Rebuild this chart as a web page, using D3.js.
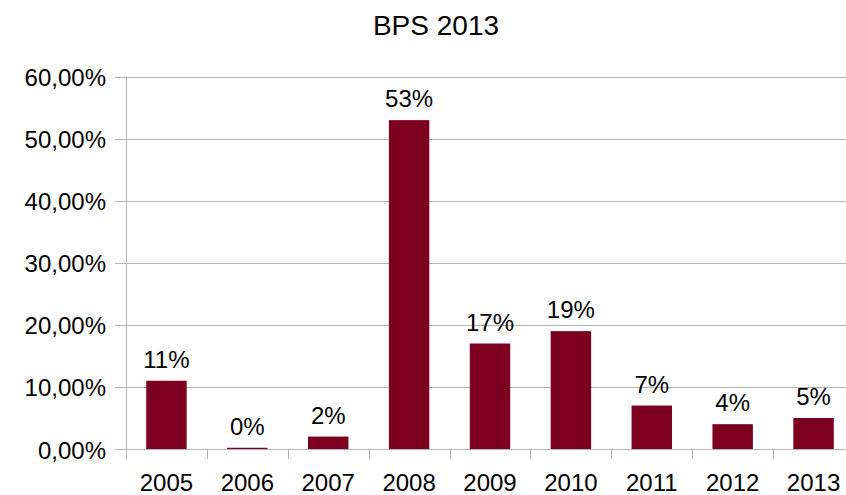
<!DOCTYPE html>
<html>
<head>
<meta charset="utf-8">
<script src="https://cdn.jsdelivr.net/npm/d3@7"></script>
<style>
html,body{margin:0;padding:0;background:#fff;overflow:hidden;}
svg{display:block;font-family:"Liberation Sans",Arial,sans-serif;}
</style>
</head>
<body>
<svg id="chart" width="846" height="495"></svg>
<script>
const title = "BPS 2013";
const categories = ["2005","2006","2007","2008","2009","2010","2011","2012","2013"];
const values = [11, 0.2, 2, 53, 17, 19, 7, 4, 5];
const valueLabels = ["11%","0%","2%","53%","17%","19%","7%","4%","5%"];
const yTicks = [0, 10, 20, 30, 40, 50, 60];
const yTickLabels = ["0,00%","10,00%","20,00%","30,00%","40,00%","50,00%","60,00%"];

(function () {
const svg = d3.select("#chart");
const pLeft = 126, pRight = 854, pTop = 76.7, pBottom = 449;
const gridColor = "#b3b3b3";
const barColor = "#7e0021";

const x = d3.scaleBand().domain(categories).range([pLeft, pRight]).paddingInner(0).paddingOuter(0);
const y = d3.scaleLinear().domain([0, 60]).range([pBottom, pTop]);

svg.append("text").attr("x", 436).attr("y", 35).attr("text-anchor", "middle")
  .attr("font-size", 28).attr("fill", "#000").text(title);

// gridlines
svg.append("g").selectAll("line").data(yTicks).join("line")
  .attr("x1", pLeft - 11).attr("x2", pRight)
  .attr("y1", d => Math.round(y(d)) + 0.5).attr("y2", d => Math.round(y(d)) + 0.5)
  .attr("stroke", gridColor).attr("stroke-width", 1);

// y labels
svg.append("g").selectAll("text").data(yTicks).join("text")
  .attr("x", 106).attr("y", d => y(d) + 9.5)
  .attr("text-anchor", "end").attr("font-size", 24).attr("fill", "#000")
  .text((d, i) => yTickLabels[i]);

// y axis line
svg.append("line").attr("x1", pLeft + 0.5).attr("x2", pLeft + 0.5)
  .attr("y1", pTop).attr("y2", pBottom + 10).attr("stroke", gridColor);

// category ticks
const bounds = categories.map(c => x(c)).concat([pRight]);
svg.append("g").selectAll("line").data(bounds).join("line")
  .attr("x1", d => Math.round(d) + 0.5).attr("x2", d => Math.round(d) + 0.5)
  .attr("y1", pBottom).attr("y2", pBottom + 10).attr("stroke", gridColor);

// bars
const bw = x.bandwidth() / 2;
svg.append("g").selectAll("rect").data(values).join("rect")
  .attr("x", (d, i) => x(categories[i]) + x.bandwidth() / 4)
  .attr("width", bw)
  .attr("y", d => y(d))
  .attr("height", d => pBottom - y(d))
  .attr("fill", barColor);

// value labels
svg.append("g").selectAll("text").data(values).join("text")
  .attr("x", (d, i) => x(categories[i]) + x.bandwidth() / 2)
  .attr("y", d => y(d) - 13)
  .attr("text-anchor", "middle").attr("font-size", 24).attr("fill", "#000")
  .text((d, i) => valueLabels[i]);

// x labels
svg.append("g").selectAll("text").data(categories).join("text")
  .attr("x", d => x(d) + x.bandwidth() / 2)
  .attr("y", 491)
  .attr("text-anchor", "middle").attr("font-size", 24).attr("fill", "#000")
  .text(d => d);
})();
</script>
</body>
</html>
